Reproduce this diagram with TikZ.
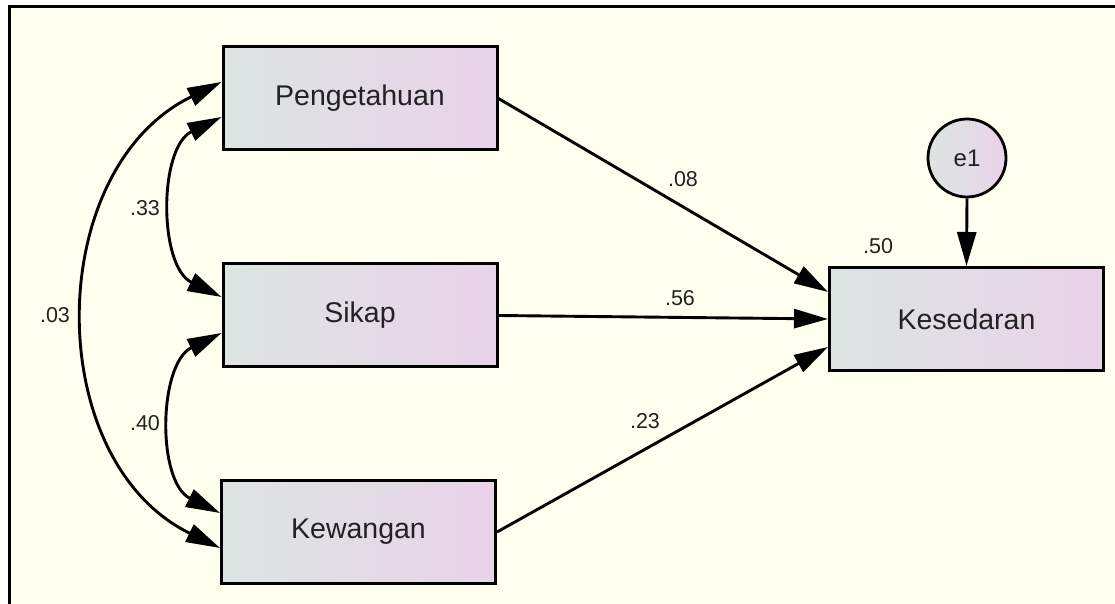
\documentclass[tikz,border=0pt]{standalone}
\usepackage{fontspec}
\setmainfont{Liberation Sans}
\usetikzlibrary{arrows.meta}
\definecolor{paper}{RGB}{255,255,240}
\definecolor{boxleft}{RGB}{220,229,226}
\definecolor{boxright}{RGB}{233,210,233}
\definecolor{ink}{RGB}{34,34,34}

\begin{document}
\begin{tikzpicture}[x=1pt, y=1pt,
  var/.style={draw=black, line width=3pt, left color=boxleft, right color=boxright,
    minimum width=274pt, minimum height=103pt, text=ink,
    font=\fontsize{28.5}{30}\selectfont},
  err/.style={circle, draw=black, line width=2.8pt, left color=boxleft, right color=boxright,
    minimum size=78pt, inner sep=0pt, text=ink, font=\fontsize{24}{26}\selectfont},
  regpath/.style={line width=2.9pt, -{Triangle[length=34pt, width=19pt]}},
  cov/.style={line width=2.9pt, {Triangle[length=34pt, width=19pt]}-{Triangle[length=34pt, width=19pt]}},
  est/.style={inner sep=0pt, text=ink, font=\fontsize{21.5}{23}\selectfont}]
\useasboundingbox (0,0) rectangle (1115,604);
% frame
\fill[white] (0,0) rectangle (1115,604);
\fill[paper] (9,0) rectangle (1115,597);
\draw[line width=3pt] (9,0) -- (9,597) -- (1115,597);

% observed variables
\node[var] (peng)  at (360,505.5) {Pengetahuan};
\node[var] (sikap) at (360,288.5) {Sikap};
\node[var] (kew)   at (358.5,72)  {Kewangan};
\node[var] (kes)   at (966.5,285) {Kesedaran};
\node[err] (e1)    at (967,446)   {e1};

% regression paths
\draw[regpath] (peng.east)  -- ([yshift=27pt]kes.west);
\draw[regpath] (sikap.east) -- (kes.west);
\draw[regpath] (kew.east)   -- ([yshift=-28pt]kes.west);
\draw[regpath] (e1.south)   -- (kes.north);

% covariances
\draw[cov] ([yshift=16.5pt]peng.west) to[out=206, in=154, looseness=1.09] ([yshift=-16pt]kew.west);
\draw[cov] ([yshift=-18.5pt]peng.west) to[out=206, in=154, looseness=1.0] ([yshift=18.5pt]sikap.west);
\draw[cov] ([yshift=-17.5pt]sikap.west) to[out=206, in=154, looseness=1.0] ([yshift=19pt]kew.west);

% estimates
\node[est] (r33) at (145,396) {.33};
\node[est] (r40) at (145,181) {.40};
\node[est] (r03) at (55,289)  {.03};
\node[est] (b08) at (683,424.5) {.08};
\node[est] (b56) at (680,306) {.56};
\node[est] (b23) at (645,183) {.23};
\node[est] (r2)  at (878,358) {.50};
\end{tikzpicture}
\end{document}
